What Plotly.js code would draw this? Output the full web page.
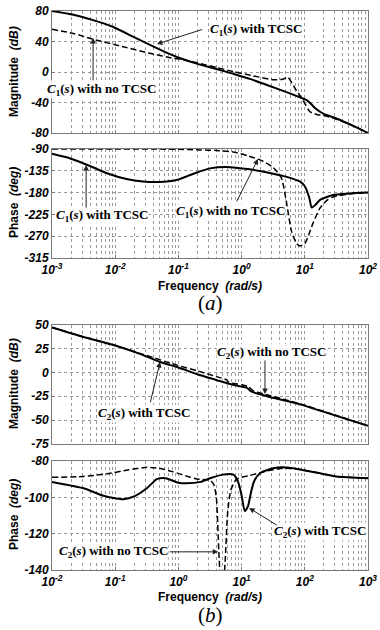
<!DOCTYPE html>
<html><head><meta charset="utf-8">
<script src="https://cdn.plot.ly/plotly-3.0.1.min.js"></script>
<style>html,body{margin:0;padding:0;background:#fff}#c{width:380px;height:630px}</style>
</head><body><div id="c"></div><script>
// ---- data (frequency given as log10 exponent) ----
const magA_tcsc_exp = [-3,-2.66,-2.35,-2.03,-1.71,-1.45,-1.18,-0.97,-0.71,-0.4,-0.13,0.13,0.4,0.7,0.92,1.03,1.1,1.17,1.3,1.5,1.75,2];
const magA_tcsc_db  = [80,75,68,59,46,35.5,25,18,11,4,-2.5,-9,-17,-26,-33,-37,-42,-48,-55,-61,-70,-80];
const magA_none_exp = [-3,-2.66,-2.35,-1.87,-1.45,-1.08,-0.97,-0.7,-0.4,-0.13,0.18,0.5,0.65,0.73,0.85,0.97,1.08,1.2,1.3,1.5,1.75,2];
const magA_none_db  = [56,50.5,43,33,24.5,18,17,12,6,0.5,-5,-10,-9.5,-7,-22,-37,-52,-56,-57,-62,-70,-80];

const phA_tcsc_exp = [-3,-2.7,-2.4,-2.13,-1.82,-1.56,-1.3,-1.03,-0.76,-0.5,-0.24,0.13,0.5,0.7,0.92,1,1.07,1.11,1.17,1.24,1.45,1.7,2];
const phA_tcsc_deg = [-100,-110,-125,-140,-152,-157,-158,-154,-141,-130,-127,-132,-141,-147,-157,-167,-190,-211,-205,-195,-185,-182,-180];
const phA_none_exp = [-3,-2,-1,-0.66,-0.4,-0.13,0.1,0.3,0.5,0.63,0.71,0.79,0.87,0.92,1,1.06,1.13,1.24,1.35,1.45,1.7,2];
const phA_none_deg = [-90,-90,-90.5,-92,-93,-96,-104,-113,-128,-150,-200,-260,-285,-290,-285,-268,-243,-212,-196,-189,-183,-180];

const magB_tcsc_exp = [-2,-1.5,-1,-0.6,-0.3,0,0.3,0.6,0.8,1,1.08,1.15,1.4,1.9,2.45,3];
const magB_tcsc_db  = [47,37,28,19,11,5,-2,-8,-12,-15,-16,-20,-25,-33,-44.5,-56];
const magB_none_exp = [-2,-1.5,-1,-0.5,0,0.3,0.6,0.75,0.8,1,1.1,1.2,1.4,1.9,2.45,3];
const magB_none_db  = [47,37,28,17.5,7,1.5,-4.5,-7.5,-10.5,-13,-15,-20,-23.5,-32.5,-44,-56];

const phB_tcsc_exp = [-2,-1.5,-1.2,-1,-0.87,-0.7,-0.5,-0.34,-0.2,0,0.13,0.35,0.5,0.7,0.87,0.95,1,1.05,1.1,1.15,1.2,1.3,1.5,1.66,1.9,2.2,2.5,3];
const phB_tcsc_deg = [-91.5,-95,-99,-100.5,-101,-99.5,-95,-90,-89.5,-92,-92.3,-91.5,-89.5,-87.5,-87.5,-92,-99,-107.5,-105,-97,-91,-86.5,-84,-83.5,-84.5,-86.5,-88.5,-89.5];
const phB_none_exp = [-2,-1.5,-1.13,-0.8,-0.5,-0.3,-0.08,0.15,0.3,0.5,0.56,0.6,0.64,0.69,0.74,0.78,0.83,0.92,1.13,1.4,1.66,1.9,2.2,2.5,3];
const phB_none_deg = [-89,-88.5,-87,-85,-83.5,-84,-86,-88.5,-90,-90.5,-93,-100,-130,-160,-135,-108,-96,-90,-88,-85.5,-84,-84.5,-86.5,-88.5,-89.5];

// ---- tick labels ----
const xA_tickvals = [1e-3,1e-2,1e-1,1e0,1e1,1e2];
const xA_ticktext = ['10<sup>-3</sup>','10<sup>-2</sup>','10<sup>-1</sup>','10<sup>0</sup>','10<sup>1</sup>','10<sup>2</sup>'];
const xB_tickvals = [1e-2,1e-1,1e0,1e1,1e2,1e3];
const xB_ticktext = ['10<sup>-2</sup>','10<sup>-1</sup>','10<sup>0</sup>','10<sup>1</sup>','10<sup>2</sup>','10<sup>3</sup>'];
const magA_ticks = [80,40,0,-40,-80];
const phA_ticks = [-90,-135,-180,-225,-270,-315];
const magB_ticks = [50,25,0,-25,-50,-75];
const phB_ticks = [-80,-100,-120,-140];

const f = e => e.map(v => Math.pow(10, v));
const solid = {color:'#000', width:2, shape:'spline', smoothing:0.6};
const dashed = {color:'#000', width:1.5, dash:'6px,3px', shape:'spline', smoothing:0.6};

const traces = [
  {x:f(magA_tcsc_exp), y:magA_tcsc_db, xaxis:'x', yaxis:'y', mode:'lines', line:solid},
  {x:f(magA_none_exp), y:magA_none_db, xaxis:'x', yaxis:'y', mode:'lines', line:dashed},
  {x:f(phA_tcsc_exp), y:phA_tcsc_deg, xaxis:'x2', yaxis:'y2', mode:'lines', line:solid},
  {x:f(phA_none_exp), y:phA_none_deg, xaxis:'x2', yaxis:'y2', mode:'lines', line:dashed},
  {x:f(magB_tcsc_exp), y:magB_tcsc_db, xaxis:'x3', yaxis:'y3', mode:'lines', line:solid},
  {x:f(magB_none_exp), y:magB_none_db, xaxis:'x3', yaxis:'y3', mode:'lines', line:dashed},
  {x:f(phB_tcsc_exp), y:phB_tcsc_deg, xaxis:'x4', yaxis:'y4', mode:'lines', line:solid},
  {x:f(phB_none_exp), y:phB_none_deg, xaxis:'x4', yaxis:'y4', mode:'lines', line:dashed}
];

const W = 380, H = 630;
const px = v => v / W, py = v => 1 - v / H;
const tickFont = {family:'Liberation Sans, Arial, sans-serif', size:12, weight:700, style:'italic', color:'#000'};
const gridCol = '#9a9a9a';
const lineCol = '#7a7a7a';

function minorVals(d0, d1) {
  const out = [];
  for (let d = d0; d < d1; d++) for (let k = 2; k <= 9; k++) out.push(k * Math.pow(10, d));
  return out;
}
function xax(range, tv, tt, show, anchor) {
  return {type:'log', range:range, domain:[px(52), px(368)], anchor:anchor,
    tickmode:'array', tickvals:tv, ticktext:tt, showticklabels:show, tickfont:tickFont,
    ticks:'inside', ticklen:3, tickcolor:lineCol, ticklabelstandoff:1,
    showgrid:true, gridcolor:gridCol, griddash:'dot', gridwidth:1,
    minor:{tickmode:'array', tickvals:minorVals(range[0], range[1]), showgrid:true, gridcolor:gridCol, griddash:'dot', gridwidth:1, ticks:''},
    showline:true, linecolor:lineCol, linewidth:1, mirror:true, zeroline:false, fixedrange:true};
}
function yax(range, ticks, top, bottom, anchor) {
  return {range:range, domain:[py(bottom), py(top)], anchor:anchor,
    tickmode:'array', tickvals:ticks, ticktext:ticks.map(String), tickfont:tickFont,
    ticks:'inside', ticklen:3, tickcolor:lineCol,
    showgrid:true, gridcolor:gridCol, griddash:'dot', gridwidth:1,
    showline:true, linecolor:lineCol, linewidth:1, mirror:true, zeroline:false, fixedrange:true};
}

const serif = {family:'Liberation Serif, Times New Roman, serif', size:13, weight:700, color:'#000'};
const sansT = {family:'Liberation Sans, Arial, sans-serif', size:12, weight:700, color:'#000'};
const C1T = '<i>C</i><sub>1</sub>(<i>s</i>) with TCSC';
const C1N = '<i>C</i><sub>1</sub>(<i>s</i>) with no TCSC';
const C2T = '<i>C</i><sub>2</sub>(<i>s</i>) with TCSC';
const C2N = '<i>C</i><sub>2</sub>(<i>s</i>) with no TCSC';

function label(xr, yr, x, y, text) {
  return {xref:xr, yref:yr, x:x, y:y, text:text, showarrow:false, font:serif, bgcolor:'rgba(255,255,255,0.85)', borderpad:0};
}
function arrow(xr, yr, x, y, ax, ay) {
  return {xref:xr, yref:yr, axref:xr, ayref:yr, x:x, y:y, ax:ax, ay:ay, text:'', showarrow:true,
    arrowhead:2, arrowsize:1.1, arrowwidth:1, arrowcolor:'#222', standoff:0, startstandoff:0};
}
function paperText(x, y, text, font, angle) {
  return {xref:'paper', yref:'paper', x:px(x), y:py(y), text:text, showarrow:false, font:font,
    textangle:angle||0, xanchor:'center', yanchor:'middle'};
}

const annotations = [
  // panel (a) magnitude
  label('x','y', 0.23, 56.4, C1T), arrow('x','y', -1.34, 36.7, -0.6, 56.4),
  label('x','y', -2.21, -22.3, C1N), arrow('x','y', -2.35, 44.6, -2.35, -13),
  // panel (a) phase
  label('x2','y2', -2.21, -228, C1T), arrow('x2','y2', -2.46, -123, -2.46, -214),
  label('x2','y2', -0.17, -220, C1N), arrow('x2','y2', 0.26, -110.6, -0.09, -201.5),
  // panel (b) magnitude
  label('x3','y3', -0.54, -42.6, C2T), arrow('x3','y3', -0.29, 10.8, -0.45, -33),
  label('x3','y3', 1.47, 20.2, C2N), arrow('x3','y3', 1.37, -22.7, 1.37, 13.9),
  // panel (b) phase
  label('x4','y4', -1.02, -130, C2N), arrow('x4','y4', 0.63, -130, -0.16, -130),
  label('x4','y4', 2.24, -119, C2T), arrow('x4','y4', 1.12, -105.9, 1.58, -115.8),
  // axis titles
  paperText(14, 72, 'Magnitude  <i>(dB)</i>', sansT, -90),
  paperText(14, 203, 'Phase  <i>(deg)</i>', sansT, -90),
  paperText(14, 384, 'Magnitude  <i>(dB)</i>', sansT, -90),
  paperText(14, 515, 'Phase  <i>(deg)</i>', sansT, -90),
  paperText(210, 286, 'Frequency  <i>(rad/s)</i>', sansT),
  paperText(210, 597, 'Frequency  <i>(rad/s)</i>', sansT),
  paperText(211, 303, '(<i>a</i>)', {family:'Liberation Serif, Times New Roman, serif', size:21, color:'#000'}),
  paperText(211, 615, '(<i>b</i>)', {family:'Liberation Serif, Times New Roman, serif', size:21, color:'#000'})
];

const layout = {
  width:W, height:H, margin:{l:0,r:0,t:0,b:0}, paper_bgcolor:'#fff', plot_bgcolor:'#fff',
  showlegend:false,
  xaxis: xax([-3,2], xA_tickvals, xA_ticktext, false, 'y'),
  yaxis: yax([-80,80], magA_ticks, 11, 133, 'x'),
  xaxis2: xax([-3,2], xA_tickvals, xA_ticktext, true, 'y2'),
  yaxis2: yax([-315,-90], phA_ticks, 149, 258, 'x2'),
  xaxis3: xax([-2,3], xB_tickvals, xB_ticktext, false, 'y3'),
  yaxis3: yax([-75,50], magB_ticks, 324.5, 444, 'x3'),
  xaxis4: xax([-2,3], xB_tickvals, xB_ticktext, true, 'y4'),
  yaxis4: yax([-140,-80], phB_ticks, 461, 570, 'x4'),
  annotations: annotations
};

Plotly.newPlot('c', traces, layout, {displayModeBar:false, staticPlot:true});
</script></body></html>
